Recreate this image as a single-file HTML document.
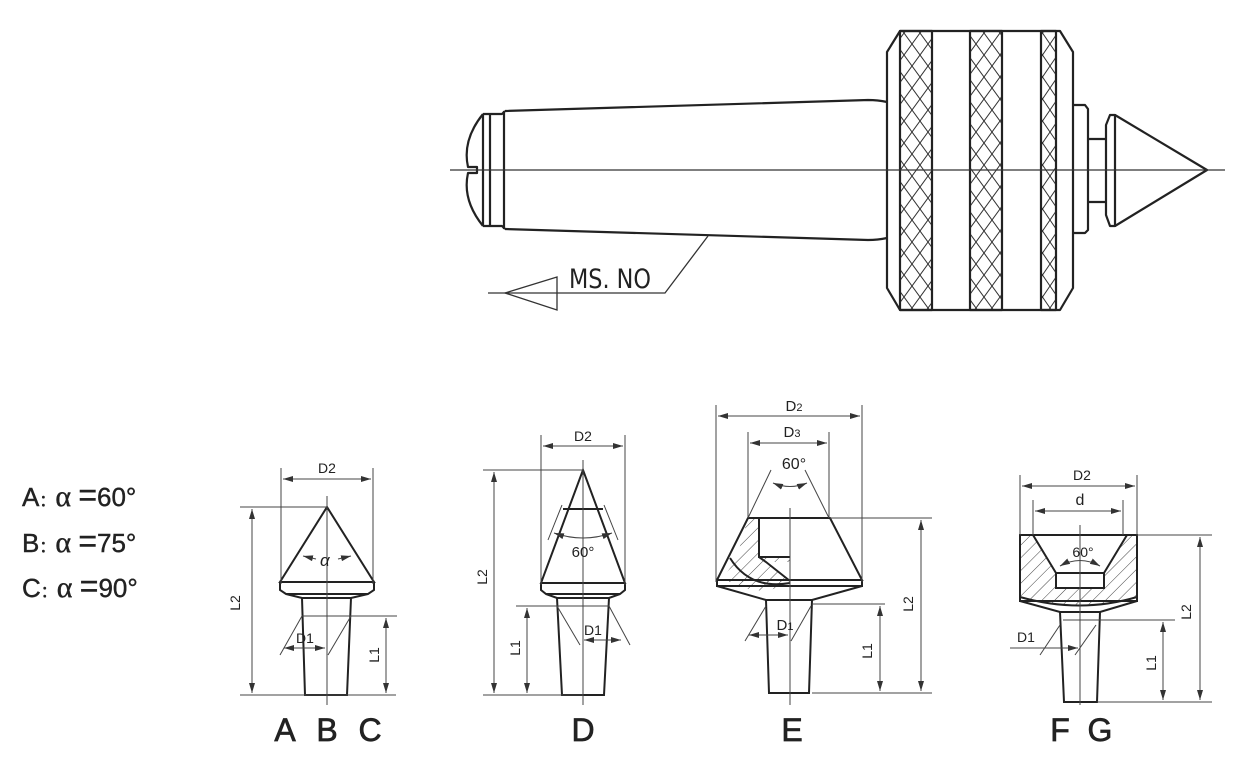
<!DOCTYPE html>
<html><head><meta charset="utf-8"><style>
html,body{margin:0;padding:0;background:#fff;}
svg{display:block;}
text{font-family:"Liberation Sans",sans-serif;fill:#222;}
.big{font-size:32px;stroke:#222;stroke-width:0.7;}
</style></head><body>
<svg width="1259" height="771" viewBox="0 0 1259 771" xmlns="http://www.w3.org/2000/svg">
<defs>
<pattern id="kn" width="16" height="22" patternUnits="userSpaceOnUse">
<path d="M0 0L16 22M16 0L0 22" stroke="#333" stroke-width="1" fill="none"/>
</pattern>
<pattern id="kn2" width="15" height="22" patternUnits="userSpaceOnUse">
<path d="M0 0L15 22M15 0L0 22" stroke="#333" stroke-width="1" fill="none"/>
</pattern>
<pattern id="hat" width="9" height="9" patternUnits="userSpaceOnUse" patternTransform="rotate(45)">
<line x1="0" y1="0" x2="0" y2="9" stroke="#444" stroke-width="1"/>
</pattern>
<marker id="ar" viewBox="0 0 10 6" refX="10" refY="3" markerWidth="10" markerHeight="6" orient="auto-start-reverse" markerUnits="userSpaceOnUse">
<path d="M0 0L10 3L0 6" fill="#333"/>
</marker>
</defs>

<!-- TOP DRAWING -->
<g stroke="#222" stroke-width="2.2" fill="none" stroke-linejoin="round">
<path d="M483 114 Q462 140 468 167 L477 167 L477 173 L468 173 Q462 200 483 226"/>
<path d="M483 114 L502 114 L505 111 M483 226 L502 226 L505 229"/>
<line x1="483" y1="114" x2="483" y2="226"/>
<line x1="490" y1="114" x2="490" y2="226"/>
<line x1="504" y1="111" x2="504" y2="229"/>
<path d="M505 111 L868 100 Q878 100 887 102"/>
<path d="M505 229 L868 240 Q878 240 887 238"/>
<path d="M900 31 L1060 31 L1073 52 L1073 288 L1060 310 L900 310 L887 288 L887 52 Z"/>
<rect x="900" y="31" width="32" height="279" fill="url(#kn)"/>
<rect x="970" y="31" width="32" height="279" fill="url(#kn)"/>
<rect x="1041" y="31" width="15" height="279" fill="url(#kn2)"/>
<path d="M1073 105 L1085 105 L1088 109 L1088 230 L1085 233 L1073 233"/>
<path d="M1088 139 L1106 139 M1088 202 L1106 202"/>
<path d="M1106 125 L1110 115 L1115 115 L1115 226 L1110 226 L1106 215 Z"/>
<path d="M1115 115 L1207 170 L1115 226"/>
</g>
<line x1="450" y1="170" x2="1225" y2="170" stroke="#333" stroke-width="1.2"/>
<g stroke="#333" stroke-width="1.3" fill="none">
<polyline points="708,236 665,293 488,293"/>
<path d="M505 293 L557 277 L557 310 Z"/>
</g>
<text x="569" y="288" font-size="27" textLength="82" lengthAdjust="spacingAndGlyphs" style="font-family:'DejaVu Sans Condensed','Liberation Sans Narrow',sans-serif">MS. NO</text>

<!-- LEFT TEXT -->
<g style="stroke:#222;stroke-width:0.4">
<text x="22" y="506" font-size="26">A<tspan font-size="16">：</tspan><tspan font-family="Liberation Serif" font-size="30">α</tspan> <tspan font-size="32">=</tspan>60°</text>
<text x="22" y="552" font-size="26">B<tspan font-size="16">：</tspan><tspan font-family="Liberation Serif" font-size="30">α</tspan> <tspan font-size="32">=</tspan>75°</text>
<text x="22" y="597" font-size="26">C<tspan font-size="16">：</tspan><tspan font-family="Liberation Serif" font-size="30">α</tspan> <tspan font-size="32">=</tspan>90°</text>
</g>

<!-- ABC -->
<g stroke="#222" stroke-width="2" fill="none">
<path d="M327 507 L280 582 L374 582 Z"/>
<path d="M280 582 L280 590 L286 594 L368 594 L374 590 L374 582"/>
<path d="M286 594 L302 598 L351 598 L368 594"/>
<path d="M302 598 L305 695 L347 695 L351 598"/>
</g>
<g stroke="#444" stroke-width="1" fill="none">
<line x1="327" y1="496" x2="327" y2="705"/>
<line x1="281" y1="468" x2="281" y2="584"/><line x1="373" y1="468" x2="373" y2="584"/>
<line x1="283" y1="479" x2="371" y2="479" marker-start="url(#ar)" marker-end="url(#ar)"/>
<line x1="240" y1="507" x2="327" y2="507"/>
<line x1="240" y1="695" x2="396" y2="695"/>
<line x1="252" y1="509" x2="252" y2="693" marker-start="url(#ar)" marker-end="url(#ar)"/>
<line x1="302" y1="616" x2="397" y2="616"/>
<line x1="386" y1="618" x2="386" y2="693" marker-start="url(#ar)" marker-end="url(#ar)"/>
<line x1="302" y1="616" x2="280" y2="655"/><line x1="351" y1="616" x2="328" y2="655"/>
<line x1="284" y1="648" x2="325" y2="648" marker-start="url(#ar)" marker-end="url(#ar)"/>
<line x1="303" y1="556" x2="316" y2="559" marker-start="url(#ar)"/>
<line x1="351" y1="556" x2="338" y2="559" marker-start="url(#ar)"/>
</g>
<text x="320" y="566" font-size="17" font-style="italic" font-family="Liberation Serif">α</text>
<text x="327" y="473" font-size="14" text-anchor="middle">D2</text>
<text x="305" y="643" font-size="14" text-anchor="middle">D1</text>
<text transform="translate(240,603) rotate(-90)" font-size="14" text-anchor="middle">L2</text>
<text transform="translate(379,655) rotate(-90)" font-size="14" text-anchor="middle">L1</text>
<text class="big" x="285" y="741" text-anchor="middle">A</text>
<text class="big" x="327" y="741" text-anchor="middle">B</text>
<text class="big" x="370" y="741" text-anchor="middle">C</text>

<!-- D -->
<g stroke="#222" stroke-width="2" fill="none">
<path d="M583 470 L541 583 L625 583 Z"/>
<line x1="563" y1="509" x2="603" y2="509"/>
<path d="M541 583 L541 590 L546 594 L620 594 L625 590 L625 583"/>
<path d="M546 594 L557 598 L609 598 L620 594"/>
<path d="M557 598 L562 695 L604 695 L609 598"/>
</g>
<g stroke="#444" stroke-width="1" fill="none">
<line x1="583" y1="460" x2="583" y2="705"/>
<line x1="541" y1="435" x2="541" y2="585"/><line x1="625" y1="435" x2="625" y2="585"/>
<line x1="543" y1="446" x2="623" y2="446" marker-start="url(#ar)" marker-end="url(#ar)"/>
<line x1="483" y1="470" x2="583" y2="470"/>
<line x1="483" y1="695" x2="583" y2="695"/>
<line x1="494" y1="472" x2="494" y2="693" marker-start="url(#ar)" marker-end="url(#ar)"/>
<line x1="516" y1="606" x2="609" y2="606"/>
<line x1="527" y1="608" x2="527" y2="693" marker-start="url(#ar)" marker-end="url(#ar)"/>
<line x1="557" y1="606" x2="580" y2="645"/><line x1="609" y1="606" x2="630" y2="645"/>
<line x1="584" y1="640" x2="621" y2="640" marker-start="url(#ar)" marker-end="url(#ar)"/>
<line x1="548" y1="540" x2="562" y2="505"/><line x1="618" y1="540" x2="604" y2="505"/>
<path d="M554 533 Q583 543 612 533" marker-start="url(#ar)" marker-end="url(#ar)"/>
</g>
<text x="583" y="441" font-size="14" text-anchor="middle">D2</text>
<text x="583" y="557" font-size="15" text-anchor="middle">60°</text>
<text x="593" y="635" font-size="14" text-anchor="middle">D1</text>
<text transform="translate(487,577) rotate(-90)" font-size="14" text-anchor="middle">L2</text>
<text transform="translate(520,648) rotate(-90)" font-size="14" text-anchor="middle">L1</text>
<text class="big" x="583" y="741" text-anchor="middle">D</text>

<!-- E -->
<path d="M748 518 L759 518 L759 557 L790 557 L790 562 L766 562 L790 582 L720 582 L736 560 Z" fill="url(#hat)" stroke="none"/>
<path d="M727 580 Q760 600 790 582 L790 580 Z" fill="url(#hat)" stroke="none"/>
<g stroke="#222" stroke-width="2" fill="none">
<path d="M748 518 L830 518 L862 580 L717 580 Z"/>
<path d="M717 580 L717 586 L862 586 L862 580"/>
<path d="M717 586 L766 600 L812 600 L862 586"/>
<path d="M766 600 L769 693 L809 693 L812 600"/>
<path d="M759 518 L759 557 L790 557 M759 557 L766 562 L790 581"/>
<path d="M730 558 Q750 590 790 583"/>
</g>
<g stroke="#444" stroke-width="1" fill="none">
<line x1="790" y1="508" x2="790" y2="705"/>
<line x1="716" y1="405" x2="716" y2="582"/><line x1="862" y1="405" x2="862" y2="582"/>
<line x1="718" y1="416" x2="860" y2="416" marker-start="url(#ar)" marker-end="url(#ar)"/>
<line x1="748" y1="432" x2="748" y2="518"/><line x1="829" y1="432" x2="829" y2="518"/>
<line x1="750" y1="443" x2="827" y2="443" marker-start="url(#ar)" marker-end="url(#ar)"/>
<line x1="748" y1="518" x2="771" y2="470"/><line x1="829" y1="518" x2="805" y2="470"/>
<path d="M773 483 Q790 490 807 483" marker-start="url(#ar)" marker-end="url(#ar)"/>
<line x1="830" y1="518" x2="932" y2="518"/>
<line x1="812" y1="693" x2="932" y2="693"/>
<line x1="921" y1="520" x2="921" y2="691" marker-start="url(#ar)" marker-end="url(#ar)"/>
<line x1="812" y1="604" x2="885" y2="604"/>
<line x1="880" y1="606" x2="880" y2="691" marker-start="url(#ar)" marker-end="url(#ar)"/>
<line x1="766" y1="606" x2="745" y2="641"/><line x1="811" y1="606" x2="791" y2="641"/>
<line x1="749" y1="635" x2="788" y2="635" marker-start="url(#ar)" marker-end="url(#ar)"/>
</g>
<text x="794" y="411" font-size="15" text-anchor="middle">D<tspan font-size="11">2</tspan></text>
<text x="792" y="437" font-size="15" text-anchor="middle">D<tspan font-size="11">3</tspan></text>
<text x="794" y="469" font-size="16" text-anchor="middle">60°</text>
<text x="785" y="630" font-size="15" text-anchor="middle">D<tspan font-size="11">1</tspan></text>
<text transform="translate(913,604) rotate(-90)" font-size="14" text-anchor="middle">L2</text>
<text transform="translate(872,651) rotate(-90)" font-size="14" text-anchor="middle">L1</text>
<text class="big" x="792" y="741" text-anchor="middle">E</text>

<!-- FG -->
<path d="M1020 535 L1033 535 L1056 573 L1056 588 L1104 588 L1104 573 L1127 535 L1137 535 L1137 597 Q1080 612 1020 597 Z" fill="url(#hat)" stroke="none"/>
<g stroke="#222" stroke-width="2" fill="none">
<rect x="1020" y="535" width="117" height="66"/>
<path d="M1033 535 L1056 573 L1104 573 L1127 535"/>
<rect x="1056" y="573" width="48" height="15"/>
<path d="M1020 597 Q1080 614 1137 597"/>
<path d="M1020 601 L1060 612 L1100 612 L1137 601"/>
<path d="M1060 612 L1064 702 L1097 702 L1100 612"/>
</g>
<g stroke="#444" stroke-width="1" fill="none">
<line x1="1080" y1="525" x2="1080" y2="705"/>
<line x1="1020" y1="475" x2="1020" y2="535"/><line x1="1137" y1="475" x2="1137" y2="535"/>
<line x1="1022" y1="486" x2="1135" y2="486" marker-start="url(#ar)" marker-end="url(#ar)"/>
<line x1="1033" y1="500" x2="1033" y2="535"/><line x1="1123" y1="500" x2="1123" y2="535"/>
<line x1="1035" y1="511" x2="1121" y2="511" marker-start="url(#ar)" marker-end="url(#ar)"/>
<path d="M1060 566 Q1080 555 1100 566" marker-start="url(#ar)" marker-end="url(#ar)"/>
<line x1="1137" y1="535" x2="1212" y2="535"/>
<line x1="1097" y1="702" x2="1212" y2="702"/>
<line x1="1200" y1="537" x2="1200" y2="700" marker-start="url(#ar)" marker-end="url(#ar)"/>
<line x1="1063" y1="620" x2="1175" y2="620"/>
<line x1="1163" y1="622" x2="1163" y2="700" marker-start="url(#ar)" marker-end="url(#ar)"/>
<line x1="1060" y1="625" x2="1040" y2="655"/><line x1="1096" y1="625" x2="1075" y2="655"/>
<line x1="1010" y1="648" x2="1078" y2="648" marker-end="url(#ar)"/>
</g>
<text x="1082" y="480" font-size="14" text-anchor="middle">D2</text>
<text x="1080" y="505" font-size="16" text-anchor="middle">d</text>
<text x="1083" y="557" font-size="14" text-anchor="middle">60°</text>
<text x="1026" y="642" font-size="14" text-anchor="middle">D1</text>
<text transform="translate(1191,612) rotate(-90)" font-size="14" text-anchor="middle">L2</text>
<text transform="translate(1156,663) rotate(-90)" font-size="14" text-anchor="middle">L1</text>
<text class="big" x="1060" y="741" text-anchor="middle">F</text>
<text class="big" x="1100" y="741" text-anchor="middle">G</text>
</svg>
</body></html>
